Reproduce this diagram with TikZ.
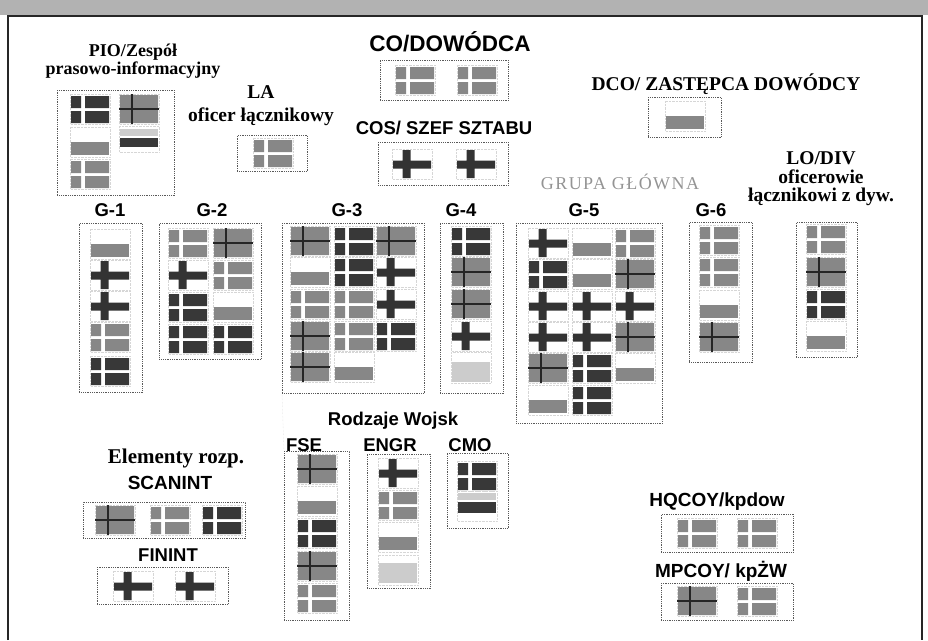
\documentclass[tikz,border=0pt]{standalone}
\usepackage{fontspec}
\setmainfont{Liberation Serif}
\setsansfont{Liberation Sans}
\newfontfamily\spacedserif[LetterSpace=8]{Liberation Serif}
\usepackage{tikz}
\usetikzlibrary{positioning}

% one desk cell is 40 x 30 px, (#1,#2) is its top left corner
\newcommand{\deskpair}[3]{%
  \begin{scope}[shift={(#1,#2)}]
    \draw[cell] (0,0) rectangle (40,30);
    \fill[#3] (1,2) rectangle (11,14) (15,2) rectangle (39,14)
              (1,17) rectangle (11,29) (15,17) rectangle (39,29);
  \end{scope}}
\newcommand{\deskcross}[2]{%
  \begin{scope}[shift={(#1,#2)}]
    \draw[cell] (0,0) rectangle (40,30);
    \fill[lightdesk] (1,1) rectangle (12,14) (14,1) rectangle (39,14)
                     (1,16) rectangle (12,29) (14,16) rectangle (39,29);
    \draw[crossline] (13,0) -- (13,30) (0,15) -- (40,15);
  \end{scope}}
\newcommand{\plusmark}[2]{%
  \begin{scope}[shift={(#1,#2)}]
    \draw[cell] (0,0) rectangle (40,30);
    \fill[plusfill] (1,11.5) rectangle (39,19.5) (10.5,1) rectangle (18.5,29);
  \end{scope}}
\newcommand{\deskbar}[3]{%
  \begin{scope}[shift={(#1,#2)}]
    \draw[cell] (0,0) rectangle (40,30);
    \fill[#3] (1,15) rectangle (39,28);
  \end{scope}}

\begin{document}
\begin{tikzpicture}[
    x=1pt, y=-1pt,
    cell/.style={draw=black!16, densely dotted, line width=0.4pt},
    lightdesk/.style={fill=black!47},
    darkdesk/.style={fill=black!78},
    fadeddesk/.style={fill=black!20},
    plusfill/.style={fill=black!80},
    crossline/.style={draw=black!85, line width=1.8pt},
    grp/.style={draw=black!65, densely dotted, line width=0.8pt, inner sep=0pt, anchor=north west},
    sanslbl/.style={font=\sffamily\bfseries\fontsize{18.5}{20}\selectfont, inner sep=0pt},
    seriflbl/.style={font=\bfseries\fontsize{19.5}{18.5}\selectfont, align=center, inner sep=0pt}
]
    \useasboundingbox (0,0) rectangle (928,640);
    % frame of the sheet
    \fill[black!30] (0,0) rectangle (928,15);
    \draw[black!85, line width=1.6pt] (8,640) -- (8,16) -- (922,16) -- (922,640);

    % command group
    \node[seriflbl, font=\bfseries\fontsize{18}{18}\selectfont] (piolbl) at (133,61) {PIO/Zespół\\prasowo-informacyjny};
    \node[grp, minimum width=117pt, minimum height=105pt] (pio) at (57,90) {};
    \deskpair{70}{94}{darkdesk}
    \deskcross{119}{94}
    \deskbar{70}{127}{lightdesk}
    \draw[cell] (119,126) rectangle (159,152);
    \fill[fadeddesk] (120,129) rectangle (158,136);
    \fill[darkdesk] (120,138) rectangle (158,147);
    \deskpair{70}{159}{lightdesk}

    \node[sanslbl, font=\sffamily\bfseries\fontsize{22.5}{24}\selectfont] (colbl) at (450,42) {CO/DOWÓDCA};
    \node[grp, minimum width=128pt, minimum height=40pt] (co) at (380,60) {};
    \deskpair{395}{65}{lightdesk}
    \deskpair{457}{65}{lightdesk}

    \node[seriflbl, font=\bfseries\fontsize{19.5}{23}\selectfont] (lalbl) at (261,106) {LA\\oficer łącznikowy};
    \node[grp, minimum width=70pt, minimum height=36pt] (la) at (237,135) {};
    \deskpair{253}{138}{lightdesk}

    \node[sanslbl] (coslbl) at (444,128) {COS/ SZEF SZTABU};
    \node[grp, minimum width=130pt, minimum height=43pt] (cos) at (378,142) {};
    \plusmark{392}{149}
    \plusmark{456}{149}

    \node[seriflbl] (dcolbl) at (726,84) {DCO/ ZASTĘPCA DOWÓDCY};
    \node[grp, minimum width=73pt, minimum height=40pt] (dco) at (648,97) {};
    \deskbar{665}{101}{lightdesk}

    \node[font=\spacedserif\fontsize{18}{18}\selectfont, text=black!42, inner sep=0pt] (grplbl) at (620,182) {GRUPA GŁÓWNA};
    \node[seriflbl] (lolbl) at (821,179) {LO/DIV\\oficerowie\\łącznikowi z dyw.};

    % staff sections
    \node[sanslbl] (g1lbl) at (110,210) {G-1};
    \node[grp, minimum width=63pt, minimum height=169pt] (g1) at (79,223) {};
    \deskbar{90}{229}{lightdesk}
    \plusmark{90}{260}
    \plusmark{90}{291}
    \deskpair{90}{322}{lightdesk}
    \deskpair{90}{356}{darkdesk}

    \node[sanslbl] (g2lbl) at (212,210) {G-2};
    \node[grp, minimum width=102pt, minimum height=136pt] (g2) at (159,223) {};
    \deskpair{168}{228}{lightdesk}
    \deskcross{213}{228}
    \plusmark{168}{260}
    \deskpair{213}{260}{lightdesk}
    \deskpair{168}{292}{darkdesk}
    \deskbar{213}{292}{lightdesk}
    \deskpair{168}{324}{darkdesk}
    \deskpair{213}{324}{darkdesk}

    \node[sanslbl] (g3lbl) at (347,210) {G-3};
    \node[grp, minimum width=142pt, minimum height=170pt] (g3) at (282,223) {};
    \deskcross{290}{226}
    \deskpair{334}{226}{darkdesk}
    \deskcross{376}{226}
    \deskbar{290}{257}{lightdesk}
    \deskpair{334}{257}{darkdesk}
    \plusmark{376}{257}
    \deskpair{290}{289}{lightdesk}
    \deskpair{334}{289}{lightdesk}
    \plusmark{376}{289}
    \deskcross{290}{321}
    \deskpair{334}{321}{lightdesk}
    \deskpair{376}{321}{darkdesk}
    \deskcross{290}{352}
    \deskbar{334}{352}{lightdesk}

    \node[sanslbl] (g4lbl) at (461,210) {G-4};
    \node[grp, minimum width=63pt, minimum height=170pt] (g4) at (440,223) {};
    \deskpair{451}{226}{darkdesk}
    \deskcross{451}{257}
    \deskcross{451}{289}
    \plusmark{451}{321}
    \draw[cell] (451,352) rectangle (491,383);
    \fill[fadeddesk] (452,362) rectangle (490,382);

    \node[sanslbl] (g5lbl) at (584,210) {G-5};
    \node[grp, minimum width=146pt, minimum height=200pt] (g5) at (516,223) {};
    \plusmark{528}{228}
    \deskbar{572}{228}{lightdesk}
    \deskpair{615}{228}{lightdesk}
    \deskpair{528}{259}{darkdesk}
    \deskbar{572}{259}{lightdesk}
    \deskcross{615}{259}
    \plusmark{528}{291}
    \plusmark{572}{291}
    \plusmark{615}{291}
    \plusmark{528}{322}
    \plusmark{572}{322}
    \deskcross{615}{322}
    \deskcross{528}{353}
    \deskpair{572}{353}{darkdesk}
    \deskbar{615}{353}{lightdesk}
    \deskbar{528}{385}{lightdesk}
    \deskpair{572}{385}{darkdesk}

    \node[sanslbl] (g6lbl) at (711,210) {G-6};
    \node[grp, minimum width=63pt, minimum height=140pt] (g6) at (689,222) {};
    \deskpair{699}{225}{lightdesk}
    \deskpair{699}{257}{lightdesk}
    \deskbar{699}{290}{lightdesk}
    \deskcross{699}{322}

    \node[grp, minimum width=61pt, minimum height=135pt] (lo) at (796,222) {};
    \deskpair{806}{224}{lightdesk}
    \deskcross{806}{257}
    \deskpair{806}{289}{darkdesk}
    \deskbar{806}{321}{lightdesk}

    % arms
    \node[sanslbl] (armslbl) at (393,421) {Rodzaje Wojsk};
    \node[sanslbl] (fselbl) at (304,445) {FSE};
    \node[grp, minimum width=65pt, minimum height=169pt] (fse) at (284,451) {};
    \draw[cell] (g3.south west) -- (fse.north west);
    \deskcross{297}{454}
    \deskbar{297}{486}{lightdesk}
    \deskpair{297}{518}{darkdesk}
    \deskcross{297}{551}
    \deskpair{297}{583}{lightdesk}

    \node[sanslbl] (engrlbl) at (390,445) {ENGR};
    \node[grp, minimum width=63pt, minimum height=134pt] (engr) at (367,454) {};
    \plusmark{378}{458}
    \deskpair{378}{490}{lightdesk}
    \deskbar{378}{522}{lightdesk}
    \draw[cell] (378,555) rectangle (418,585);
    \fill[fadeddesk] (379,563) rectangle (417,583);

    \node[sanslbl] (cmolbl) at (470,445) {CMO};
    \node[grp, minimum width=61pt, minimum height=75pt] (cmo) at (447,453) {};
    \deskpair{457}{461}{darkdesk}
    \draw[cell] (457,491) rectangle (497,521);
    \fill[fadeddesk] (458,493) rectangle (496,500);
    \fill[darkdesk] (458,502) rectangle (496,513);

    % reconnaissance
    \node[seriflbl, font=\bfseries\fontsize{21}{22}\selectfont] (elemlbl) at (176,458) {Elementy rozp.};
    \node[sanslbl, font=\sffamily\bfseries\fontsize{19}{20}\selectfont] (scanlbl) at (170,483) {SCANINT};
    \node[grp, minimum width=162pt, minimum height=36pt] (scan) at (83,502) {};
    \deskcross{95}{505}
    \deskpair{150}{505}{lightdesk}
    \deskpair{202}{505}{darkdesk}

    \node[sanslbl] (finlbl) at (168,555) {FININT};
    \node[grp, minimum width=131pt, minimum height=37pt] (fin) at (97,567) {};
    \plusmark{113}{571}
    \plusmark{175}{571}

    % companies
    \node[sanslbl, font=\sffamily\bfseries\fontsize{19}{20}\selectfont] (hqlbl) at (717,502) {HQCOY/kpdow};
    \node[grp, minimum width=132pt, minimum height=38pt] (hq) at (661,514) {};
    \deskpair{677}{518}{lightdesk}
    \deskpair{737}{518}{lightdesk}

    \node[sanslbl, font=\sffamily\bfseries\fontsize{19}{20}\selectfont] (mplbl) at (721,571) {MPCOY/ kpŻW};
    \node[grp, minimum width=132pt, minimum height=37pt] (mp) at (661,583) {};
    \deskcross{677}{586}
    \deskpair{737}{586}{lightdesk}
\end{tikzpicture}
\end{document}
